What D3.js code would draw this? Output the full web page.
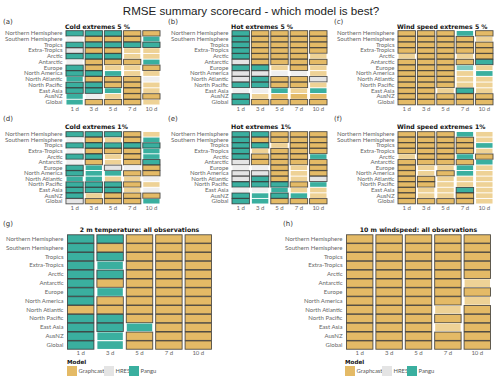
<!DOCTYPE html>
<html>
<head>
<meta charset="utf-8">
<script src="https://cdn.jsdelivr.net/npm/d3@7"></script>
<style>
  html, body { margin: 0; padding: 0; background: #fff; }
  svg { display: block; }
</style>
</head>
<body>
<svg id="chart" width="500" height="380"></svg>
<script>
// ---------------- DATA ----------------
const regions = ["Northern Hemisphere","Southern Hemisphere","Tropics","Extra-Tropics","Arctic","Antarctic","Europe","North America","North Atlantic","North Pacific","East Asia","AusNZ","Global"];
const leadTimes = ["1 d","3 d","5 d","7 d","10 d"];
const models = ["Graphcast","HRES","Pangu"];
const modelCodes = ["G","H","P"];
const panelTitles = ["Cold extremes 5 %","Hot extremes 5 %","Wind speed extremes 5 %","Cold extremes 1%","Hot extremes 1%","Wind speed extremes 1%","2 m temperature: all observations","10 m windspeed: all observations"];
const panelLetters = ["(a)","(b)","(c)","(d)","(e)","(f)","(g)","(h)"];
// token: letter = best model (G/H/P); uppercase = strong fill, lowercase = faint fill; "*" = significant (outlined)
const coldExtremes5 = [
  "P* P* P* G* G*",
  "h G* G* G* P",
  "P* P* P* P* P*",
  "H* G* G* g g",
  "P* P* P* g g",
  "h G* G* G* P",
  "P* G* g g G*",
  "P* P* P g g",
  "P G* G* G* h",
  "P* P* G* G* g",
  "P* P* P G* g",
  "P h g G* G*",
  "P G* G* G* g"];
const hotExtremes5 = [
  "P* G* G* G* G*",
  "P* G* G* G* G*",
  "P* G* G* G* G*",
  "P* G* G* G* G*",
  "P* G* G* G* g",
  "H* G* G* G* G*",
  "P* P* g G* g",
  "H* H* h h g",
  "H* P* G* G* H*",
  "P* P* G* G* g",
  "h h P g P",
  "P* g G G G",
  "P* G* G* G* G*"];
const windExtremes5 = [
  "G* G* G* P G*",
  "G* G* G* G* g",
  "G* G* G* G* G*",
  "G* G* G* G* G*",
  "g G* G* g G*",
  "G* G* G* G* P*",
  "G* G* G* p g",
  "G* G* G* g P",
  "G* G* G* g g",
  "G* G* G* g g",
  "G* G* g P* g",
  "G* G* G* G* G*",
  "G* G* G* G* G*"];
const coldExtremes1 = [
  "P* P* P* G* g",
  "h G* g G* P",
  "P* P* P* P* P*",
  "h G* G* G* P",
  "P* P* g G* P",
  "h G* g G* P*",
  "P* P H* h G*",
  "P* P P G* G*",
  "P P g g h",
  "P* P* P* G* g",
  "P* P* P* g h",
  "P* g G* G* G*",
  "H* G* G* G* P"];
const hotExtremes1 = [
  "P* P* G* G* G*",
  "P* G* G* G* G*",
  "P* P* g G* G*",
  "P* g G* G* G*",
  "P* G* G* G* P",
  "H* G* G* G* G*",
  "h h G* g G*",
  "H* H* G* g G*",
  "H* P* G* g H*",
  "P* P* P* G* P",
  "h h P g g",
  "P* P P* P g",
  "P* P G* G* G*"];
const windExtremes1 = [
  "G* G* G* P g",
  "G* G* G* G* g",
  "G* G* G* G* P",
  "G* G* G* G* g",
  "g G* G* P G*",
  "G* G* G* G* P",
  "G* g g P g",
  "G* g G* P g",
  "G* G* g g g",
  "G* G* g g g",
  "G* g g P* g",
  "G* g g G* g",
  "G* G* G* G* g"];
const temperatureAll = [
  "P* P* G* G* G*",
  "P* G* G* G* G*",
  "P* P* G* G* G*",
  "P* P G* G* G*",
  "P* P* G* G* G*",
  "P* G* G* G* G*",
  "P* P G* G* G*",
  "P* G* G* G* G*",
  "G* G* G* G* G*",
  "P* P* G* G* G*",
  "P* P* P G* G*",
  "P* P G* G* G*",
  "P* P G* G* G*"];
const windspeedAll = [
  "G* G* G* G* G*",
  "G* G* G* G* G*",
  "G* G* G* G* G*",
  "G* G* G* G* G*",
  "G* G* G* G* G*",
  "G* G* G* G* g",
  "G* G* G* G* G*",
  "G* G* G* G* g",
  "G* G* G* g G*",
  "G* G* G* G* G*",
  "G* G* G* g G*",
  "G* G* G* G* G*",
  "G* G* G* G* G*"];

// ---------------- DRAW ----------------
const svg = d3.select("#chart");
const colour = d3.scaleOrdinal().domain(modelCodes).range(["#E4BA66", "#E4E4E4", "#3AAF9F"]);
const faint = d3.scaleOrdinal().domain(modelCodes).range(["#EED296", "#EFEFEF", "#7ECBC0"]);
const FONT = "'DejaVu Sans', sans-serif";
const SMALL = "Lato, 'DejaVu Sans', sans-serif";

svg.append("text").attr("x", 251).attr("y", 15).attr("text-anchor", "middle")
  .attr("font-family", "'Liberation Sans', Arial, sans-serif").attr("font-size", 11.6).attr("fill", "#222")
  .text("RMSE summary scorecard - which model is best?");

const panelData = [coldExtremes5, hotExtremes5, windExtremes5, coldExtremes1, hotExtremes1, windExtremes1, temperatureAll, windspeedAll];
const layout = [
  {x:[65,161], y:[30.5,105], lab:[3,24], title:"left", ty:29},
  {x:[231,328], y:[30.5,105], lab:[168,24], title:"left", ty:29},
  {x:[397,494], y:[30.5,105], lab:[334,24], title:"left", ty:29},
  {x:[65,161], y:[131.5,204], lab:[3,121], title:"left", ty:129},
  {x:[231,328], y:[131.5,204], lab:[168,121], title:"left", ty:129},
  {x:[397,494], y:[131.5,204], lab:[334,121], title:"left", ty:129},
  {x:[66,213], y:[234.5,349.5], lab:[3,226], title:"center", ty:232},
  {x:[345,492], y:[234.5,349.5], lab:[283,226], title:"center", ty:232}
];

panelData.forEach((rows, i) => {
  const L = layout[i];
  const g = svg.append("g");
  const x = d3.scaleBand().domain(leadTimes).range(L.x).paddingInner(0.1).paddingOuter(0.05);
  const y = d3.scaleBand().domain(regions).range(L.y).paddingInner(0.06).paddingOuter(0.03);
  const cells = [];
  rows.forEach((r, ri) => r.split(" ").forEach((tok, ci) => {
    const code = tok[0].toUpperCase();
    cells.push({region: regions[ri], lead: leadTimes[ci], code, strong: tok[0] === tok[0].toUpperCase(), sig: tok.includes("*")});
  }));
  g.selectAll("rect.cell").data(cells).join("rect")
    .attr("class", "cell")
    .attr("x", d => x(d.lead) + (d.sig ? 0 : 0.5))
    .attr("y", d => y(d.region) + (d.sig ? 0 : 0.3))
    .attr("width", d => x.bandwidth() - (d.sig ? 0 : 1))
    .attr("height", d => y.bandwidth() - (d.sig ? 0 : 0.6))
    .attr("fill", d => d.strong ? colour(d.code) : faint(d.code))
    .attr("stroke", d => d.sig ? "#2b2b2b" : "none")
    .attr("stroke-opacity", 0.8)
    .attr("stroke-width", 0.9);

  const fs = 6;
  const ax = g.append("g").attr("transform", `translate(0,${L.y[1]})`)
    .call(d3.axisBottom(x).tickSize(0).tickPadding(1.5));
  ax.select(".domain").remove();
  ax.selectAll("text").attr("font-family", SMALL).attr("font-size", fs).attr("fill", "#666");
  const ay = g.append("g").attr("transform", `translate(${L.x[0]},0)`)
    .call(d3.axisLeft(y).tickSize(0).tickPadding(2.5));
  ay.select(".domain").remove();
  ay.selectAll("text").attr("font-family", SMALL).attr("font-size", fs).attr("fill", "#666");

  svg.append("text").attr("x", L.lab[0]).attr("y", L.lab[1])
    .attr("font-family", FONT).attr("font-size", 7).attr("fill", "#333").text(panelLetters[i]);
  svg.append("text")
    .attr("x", L.title === "left" ? L.x[0] : (L.x[0] + L.x[1]) / 2)
    .attr("y", L.ty)
    .attr("text-anchor", L.title === "left" ? "start" : "middle")
    .attr("font-family", FONT).attr("font-weight", "bold").attr("font-size", 6.2).attr("fill", "#111")
    .text(panelTitles[i]);
});

// legends
[67, 345].forEach(lx => {
  const lg = svg.append("g").attr("transform", `translate(${lx},0)`);
  lg.append("text").attr("x", 0).attr("y", 364).attr("font-family", FONT).attr("font-weight", "bold")
    .attr("font-size", 5.6).attr("fill", "#111").text("Model");
  const offs = [0, 37, 62];
  models.forEach((m, k) => {
    lg.append("rect").attr("x", offs[k]).attr("y", 366).attr("width", 10).attr("height", 10)
      .attr("fill", colour(modelCodes[k]));
    lg.append("text").attr("x", offs[k] + 11.5).attr("y", 373).attr("font-family", SMALL)
      .attr("font-size", 5.8).attr("fill", "#555").text(m);
  });
});
</script>
</body>
</html>
